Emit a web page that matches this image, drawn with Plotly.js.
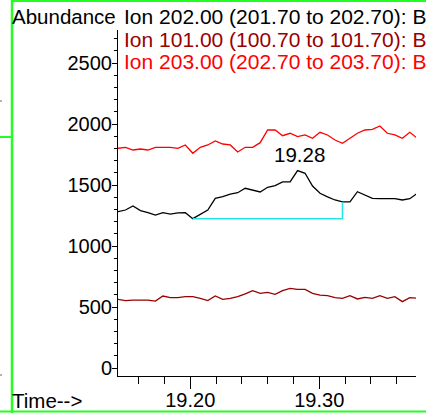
<!DOCTYPE html>
<html>
<head>
<meta charset="utf-8">
<script src="https://cdn.plot.ly/plotly-3.0.1.min.js"></script>
<style>
  html, body { margin: 0; padding: 0; background: #fff; }
  #chart { width: 426px; height: 413px; }
</style>
</head>
<body>
<div id="chart"></div>
<script>
// Retention times (min)
const times = [19.1440, 19.1498, 19.1556, 19.1614, 19.1672, 19.1730, 19.1788, 19.1846, 19.1904, 19.1962,
               19.2020, 19.2078, 19.2136, 19.2194, 19.2252, 19.2310, 19.2368, 19.2426, 19.2484, 19.2542,
               19.2600, 19.2658, 19.2716, 19.2774, 19.2832, 19.2890, 19.2948, 19.3006, 19.3064, 19.3122,
               19.3180, 19.3238, 19.3296, 19.3354, 19.3412, 19.3470, 19.3528, 19.3586, 19.3644, 19.3702,
               19.3760];

// Ion 202.00 (black)
const ion202 = [1281, 1295, 1328, 1290, 1273, 1254, 1273, 1262, 1271, 1273,
                1224, 1260, 1295, 1391, 1404, 1426, 1437, 1473, 1459, 1443,
                1481, 1495, 1525, 1525, 1618, 1596, 1492, 1432, 1402, 1377,
                1361, 1361, 1445, 1418, 1391, 1388, 1388, 1388, 1377, 1388,
                1432];

// Ion 101.00 (dark red)
const ion101 = [563, 552, 557, 557, 557, 549, 590, 577, 577, 585,
                585, 571, 552, 590, 563, 571, 585, 607, 634, 612,
                620, 604, 634, 653, 645, 645, 612, 598, 593, 577,
                571, 593, 566, 579, 571, 593, 571, 585, 544, 577,
                571];

// Ion 203.00 (red)
const ion203 = [1801, 1809, 1787, 1795, 1787, 1809, 1809, 1809, 1801, 1828,
                1760, 1809, 1828, 1861, 1836, 1828, 1771, 1809, 1809, 1847,
                1951, 1951, 1904, 1924, 1896, 1910, 1883, 1932, 1910, 1869,
                1842, 1883, 1924, 1951, 1956, 1984, 1924, 1910, 1883, 1932,
                1883];

// Integration baseline of the peak
const baseTimes = [19.2020, 19.3180, 19.3180];
const baseVals  = [1224, 1224, 1361];

// Texts
const legendLabels = ["Ion 202.00 (201.70 to 202.70): B",
                      "Ion 101.00 (100.70 to 101.70): B",
                      "Ion 203.00 (202.70 to 203.70): B"];
const yTitle = "Abundance";
const xTitle = "Time-->";
const yTickVals = [0, 500, 1000, 1500, 2000, 2500];

// ---- layout helpers (pixel -> paper) ----
const W = 426, H = 413;
const L = 118, R = 416, T = 30, B = 376;
const px = p => (p - L) / (R - L);
const py = p => (B - p) / (B - T);

const FONT = "Liberation Sans, Arial, sans-serif";
const colBlack = "#000000", colDark = "#990000", colRed = "#ff0000";

let peakIdx = 0;
ion202.forEach((v, i) => { if (v > ion202[peakIdx]) peakIdx = i; });

const traces = [
  { x: times, y: ion202, mode: "lines", line: { color: colBlack, width: 1.3 }, hoverinfo: "skip" },
  { x: times, y: ion101, mode: "lines", line: { color: colDark, width: 1.3 }, hoverinfo: "skip" },
  { x: times, y: ion203, mode: "lines", line: { color: colRed, width: 1.3 }, hoverinfo: "skip" },
  { x: baseTimes, y: baseVals, mode: "lines", line: { color: "#22e6e6", width: 1.5 }, hoverinfo: "skip" }
];

const green = "#22ff22";
const shapes = [
  { type: "line", xref: "paper", yref: "paper", x0: px(12), x1: px(12), y0: py(0), y1: py(413), line: { color: green, width: 2.5 } },
  { type: "line", xref: "paper", yref: "paper", x0: px(12), x1: px(426), y0: py(1), y1: py(1), line: { color: green, width: 2 } },
  { type: "line", xref: "paper", yref: "paper", x0: px(0), x1: px(426), y0: py(411.5), y1: py(411.5), line: { color: green, width: 2 } },
  { type: "line", xref: "paper", yref: "paper", x0: px(0), x1: px(11), y0: py(137), y1: py(137), line: { color: green, width: 2 } },
  { type: "line", xref: "paper", yref: "paper", x0: px(0), x1: px(2), y0: py(101), y1: py(101), line: { color: "#666", width: 1 } },
  { type: "line", xref: "paper", yref: "paper", x0: px(0), x1: px(2), y0: py(375), y1: py(375), line: { color: "#666", width: 1 } }
];

const legendColors = [colBlack, colDark, colRed];
const legendY = [16, 39, 62];
const annotations = [
  { xref: "paper", yref: "paper", x: px(10), y: py(16), xanchor: "left", yanchor: "middle",
    text: yTitle, showarrow: false, font: { family: FONT, size: 20.5, color: colBlack } },
  { xref: "paper", yref: "paper", x: px(10), y: py(400), xanchor: "left", yanchor: "middle",
    text: xTitle, showarrow: false, font: { family: FONT, size: 20.5, color: colBlack } },
  { xref: "x", yref: "y", x: times[peakIdx], y: ion202[peakIdx], yshift: 16, xshift: 2,
    xanchor: "center", yanchor: "middle", text: times[peakIdx].toFixed(2), showarrow: false,
    font: { family: FONT, size: 20.5, color: colBlack } }
];
legendLabels.forEach((t, i) => annotations.push({
  xref: "paper", yref: "paper", x: px(122), y: py(legendY[i]), xanchor: "left", yanchor: "middle",
  text: t, showarrow: false, font: { family: FONT, size: 21, color: legendColors[i] }
}));

const layout = {
  width: W, height: H,
  margin: { l: L, r: W - R, t: T, b: H - B, pad: 0 },
  paper_bgcolor: "#ffffff", plot_bgcolor: "#ffffff",
  showlegend: false,
  font: { family: FONT, size: 20, color: colBlack },
  xaxis: {
    range: [19.144, 19.375], showgrid: false, zeroline: false,
    showline: true, linecolor: colBlack, linewidth: 1,
    ticks: "outside", ticklen: 12, tickwidth: 1, tickcolor: colBlack,
    tick0: 19.0, dtick: 0.1, tickformat: ".2f",
    ticklabelstandoff: -6,
    tickfont: { family: FONT, size: 20, color: colBlack },
    minor: { ticks: "outside", dtick: 0.02, tick0: 19.0, ticklen: 7, tickwidth: 1, tickcolor: colBlack, showgrid: false },
    fixedrange: true
  },
  yaxis: {
    range: [-65.6, 2770.5], showgrid: false, zeroline: false,
    showline: true, linecolor: colBlack, linewidth: 1,
    ticks: "outside", ticklen: 5, tickwidth: 1, tickcolor: colBlack,
    tickvals: yTickVals,
    ticklabelstandoff: -4,
    tickfont: { family: FONT, size: 20, color: colBlack },
    minor: { ticks: "outside", dtick: 100, tick0: 0, ticklen: 3, tickwidth: 1, tickcolor: colBlack, showgrid: false },
    fixedrange: true
  },
  shapes: shapes,
  annotations: annotations
};

Plotly.newPlot("chart", traces, layout, { staticPlot: true, displayModeBar: false });
</script>
</body>
</html>
